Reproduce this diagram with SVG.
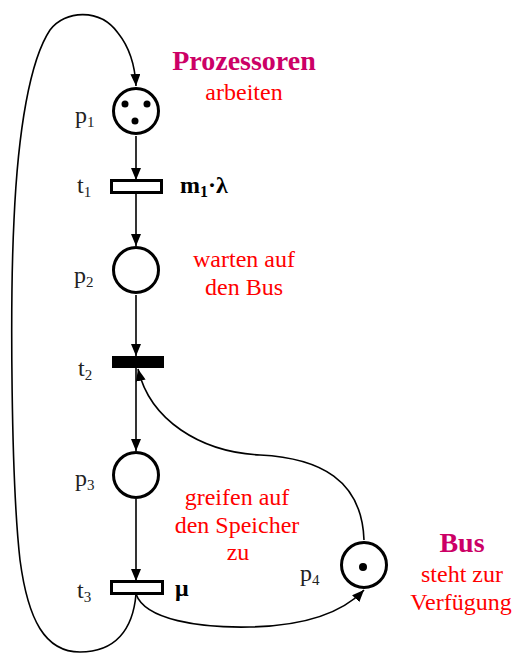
<svg xmlns="http://www.w3.org/2000/svg" width="517" height="653" viewBox="0 0 517 653">
<style>
text{font-family:'Liberation Serif','DejaVu Serif','Times New Roman',serif;}
.lbl{font-size:24px;fill:#222;}
.sub{font-size:15px;}
.red{font-size:24px;fill:#ff0000;text-anchor:middle;}
.head{font-size:28px;font-weight:bold;fill:#cc0066;text-anchor:middle;}
.rate{font-size:24px;font-weight:bold;fill:#000;}
.place{fill:#fff;stroke:#000;stroke-width:3;}
.trans{fill:#fff;stroke:#000;stroke-width:3;}
.tok{fill:#000;}
.arc{fill:none;stroke:#000;stroke-width:1.6;}
</style>
<defs>
<marker id="ah" markerUnits="userSpaceOnUse" markerWidth="12" markerHeight="10" refX="12" refY="5" orient="auto">
<path d="M0,0 L12,5 L0,10 z" fill="#000"/>
</marker>
</defs>
<g id="connectors">
<line class="arc" x1="136" y1="136" x2="136" y2="180" marker-end="url(#ah)"/>
<line class="arc" x1="136" y1="193" x2="136" y2="246" marker-end="url(#ah)"/>
<line class="arc" x1="136" y1="295" x2="136" y2="356" marker-end="url(#ah)"/>
<line class="arc" x1="136" y1="368" x2="136" y2="451" marker-end="url(#ah)"/>
<line class="arc" x1="136" y1="499" x2="136" y2="581" marker-end="url(#ah)"/>
<path class="arc" d="M136,594 C133,630 115,652 80,652 C45,652 28,620 20,560 C11,480 10,300 14,220 C18,130 30,60 50,30 C65,10 100,8 118,33 C130,48 135,65 136,86" marker-end="url(#ah)"/>
<path class="arc" d="M136,594 C145,620 200,628 250,627 C300,626 340,615 364,590" marker-end="url(#ah)"/>
<path class="arc" d="M364,540 C362,480 320,458 260,455 C200,452 150,420 138,369" marker-end="url(#ah)"/>
</g>
<g id="p1">
<circle class="place" cx="136" cy="111" r="22.5"/>
<circle class="tok" cx="125" cy="104" r="3.5"/>
<circle class="tok" cx="147" cy="104" r="3.5"/>
<circle class="tok" cx="135" cy="121" r="3.5"/>
<text class="lbl" x="75" y="123" font-family="Liberation Serif, serif">p<tspan class="sub" dy="4">1</tspan></text>
</g>
<g id="t1">
<rect class="trans" x="111.5" y="180.5" width="50" height="12"/>
<text class="lbl" x="77" y="193">t<tspan class="sub" dy="4">1</tspan></text>
<text class="rate" x="180" y="193">m<tspan font-size="16" dy="4">1</tspan><tspan dy="-4">·λ</tspan></text>
</g>
<g id="p2">
<circle class="place" cx="136" cy="270" r="22.5"/>
<text class="lbl" x="74" y="283">p<tspan class="sub" dy="4">2</tspan></text>
</g>
<g id="t2">
<rect x="112" y="356" width="52" height="12" fill="#000"/>
<text class="lbl" x="78" y="376">t<tspan class="sub" dy="4">2</tspan></text>
</g>
<g id="p3">
<circle class="place" cx="136" cy="475" r="22.5"/>
<text class="lbl" x="75" y="486">p<tspan class="sub" dy="4">3</tspan></text>
</g>
<g id="t3">
<rect class="trans" x="111.5" y="581.5" width="51" height="12"/>
<text class="lbl" x="77" y="598">t<tspan class="sub" dy="4">3</tspan></text>
<text class="rate" x="175" y="596" font-size="22">μ</text>
</g>
<g id="p4">
<circle class="place" cx="364" cy="565" r="22.5"/>
<circle class="tok" cx="363" cy="567" r="4"/>
<text class="lbl" x="300" y="581">p<tspan class="sub" dy="4">4</tspan></text>
</g>
<g id="labels">
<text class="head" x="244" y="70">Prozessoren</text>
<text class="red" x="244" y="100">arbeiten</text>
<text class="red" x="244" y="267">warten auf</text>
<text class="red" x="244" y="295">den Bus</text>
<text class="red" x="237" y="505">greifen auf</text>
<text class="red" x="237" y="533">den Speicher</text>
<text class="red" x="238" y="560">zu</text>
<text class="head" x="462" y="552">Bus</text>
<text class="red" x="462" y="582">steht zur</text>
<text class="red" x="461" y="610">Verfügung</text>
</g>
</svg>
